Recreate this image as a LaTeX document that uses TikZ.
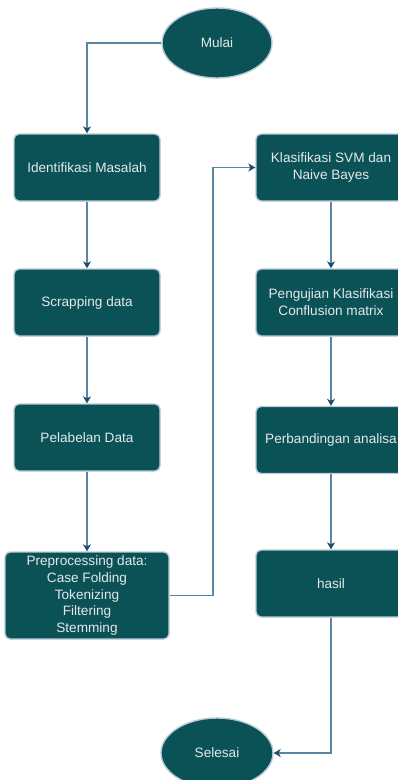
\documentclass[tikz,border=0pt]{standalone}
\usepackage{fontspec}
\setmainfont{Liberation Sans}
\usetikzlibrary{shapes.geometric,arrows.meta,calc}
\definecolor{boxfill}{HTML}{0B5257}
\definecolor{boxedge}{HTML}{B9CAD6}
\definecolor{linec}{HTML}{5A86A6}
\definecolor{tipc}{HTML}{1A4E6E}
\definecolor{txt}{HTML}{E4E8EA}
\tikzset{
  x=1pt, y=-1pt,
  every node/.style={font=\fontsize{13.6}{16.8}\selectfont, text=txt, align=center, inner sep=0pt},
  procbox/.style={draw=boxedge, line width=1.4pt, fill=boxfill, rounded corners=5pt, minimum width=146pt, minimum height=67pt},
  rbox/.style={procbox, minimum width=150pt},
  terminal/.style={ellipse, draw=boxedge, line width=1.4pt, fill=boxfill, minimum width=110pt, minimum height=70pt},
  conn/.style={draw=linec, line width=1.2pt, -{Stealth[length=7pt,width=8pt,inset=2pt,color=tipc]}}
}
\begin{document}
\begin{tikzpicture}
\clip (0,0) rectangle (398,780);
\fill[white] (0,0) rectangle (398,780);
\node[terminal] (mulai) at (217,43) {Mulai};
\node[procbox] (ident) at (87,167.5) {Identifikasi Masalah};
\node[procbox] (scrap) at (87,302.5) {Scrapping data};
\node[procbox] (label) at (87,437.5) {Pelabelan Data};
\node[procbox, minimum width=164pt, minimum height=87pt] (prep) at (87,595.5) {Preprocessing data:\\Case Folding\\Tokenizing\\Filtering\\Stemming};
\node[rbox] (klas) at (331,167.5) {Klasifikasi SVM dan\\Naive Bayes};
\node[rbox] (uji) at (331,302.5) {Pengujian Klasifikasi\\Conflusion matrix};
\node[rbox] (banding) at (331,440) {Perbandingan analisa};
\node[rbox] (hasil) at (331,583.5) {hasil};
\node[terminal, minimum width=112pt] (selesai) at (217,753) {Selesai};
\coordinate (mid) at (213,0);
\draw[conn] (mulai.west) -| (ident.north);
\draw[conn] (ident.south) -- (scrap.north);
\draw[conn] (scrap.south) -- (label.north);
\draw[conn] (label.south) -- (prep.north);
\draw[conn] (prep.east) -- (prep.east -| mid) |- (klas.west);
\draw[conn] (klas.south) -- (uji.north);
\draw[conn] (uji.south) -- (banding.north);
\draw[conn] (banding.south) -- (hasil.north);
\draw[conn] (hasil.south) |- (selesai.east);
\end{tikzpicture}
\end{document}
